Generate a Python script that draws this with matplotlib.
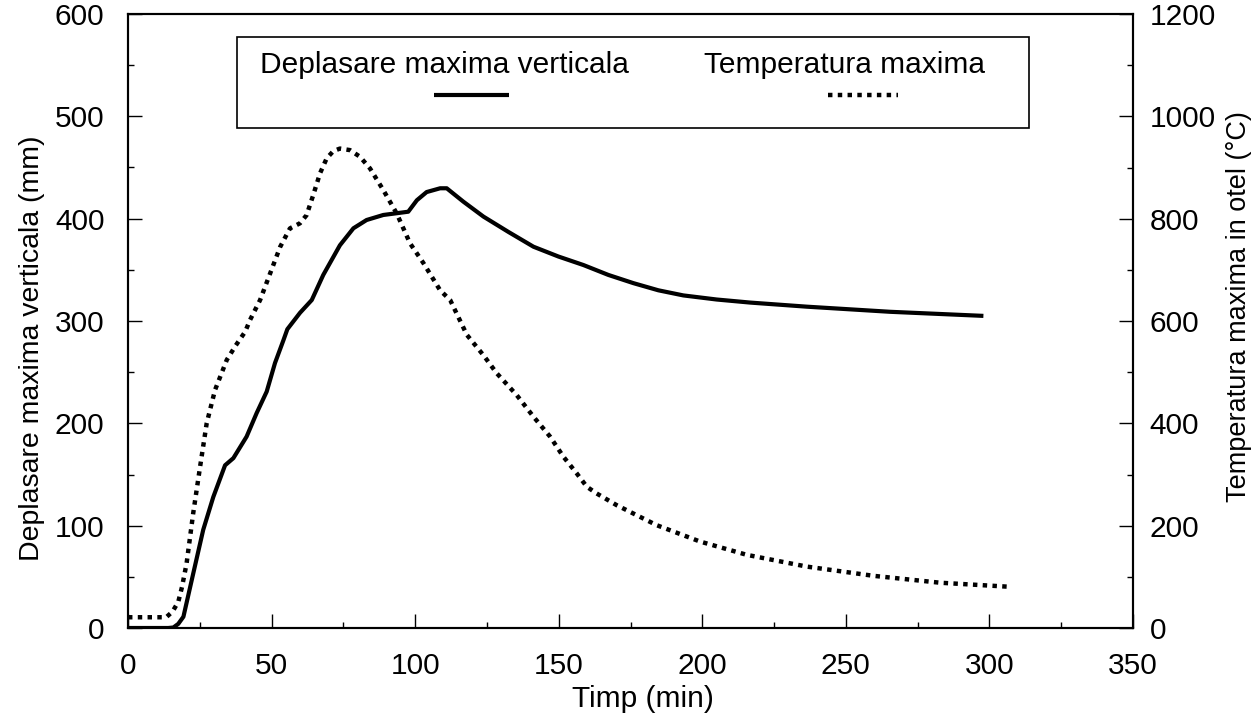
import numpy as np
import matplotlib
matplotlib.use("Agg")
import matplotlib.pyplot as plt
from matplotlib.patches import Rectangle
from matplotlib.ticker import MultipleLocator

plt.rcParams['font.family'] = ['Liberation Sans', 'DejaVu Sans']

# Deplasare maxima verticala (mm) vs timp (min)
disp_t = [0, 14, 15.8, 17.5, 19.3, 22.7, 26.2, 29.7, 33.8, 36.7, 41.3, 44.8,
          48.3, 51.2, 54.1, 55.5, 59.9, 64, 68, 73.8, 78.5, 83.1, 88.9, 97.6,
          100.6, 104, 108.7, 111, 116.8, 123.8, 129.6, 132.5, 141.2, 149.9,
          158.6, 167.3, 176, 184.7, 193.4, 205, 216.7, 236.4, 265.4, 297.9]
disp_v = [0, 0, 0.5, 4, 11, 53, 96, 128, 159, 166, 187, 210,
          231, 259, 281, 292, 308, 320.5, 345, 374, 390.6, 398.7, 403.6, 406.8,
          418, 426, 429.7, 429.7, 416.6, 402, 392, 387, 372.6, 363,
          354.7, 345, 337, 330, 325, 321, 318, 314, 309, 305]

# Temperatura maxima in otel (C) vs timp (min)
temp_t = [0, 9.4, 12, 13.5, 15.5, 17.5, 18.8, 20.4, 22.7, 25.1, 27.4, 30.3,
          34.4, 37.5, 40.8, 42.5, 46, 49.5, 53, 56.4, 59.9, 62.2, 64.5, 66.9,
          69.2, 71.5, 73.8, 77.3, 80.8, 84.3, 88.9, 93.6, 98.2, 102.9, 108.7,
          112.2, 118, 123.8, 128.4, 135.4, 141.2, 147, 151.6, 156.3, 159.8,
          163.2, 170.2, 184.1, 199.2, 215.5, 236.4, 259.6, 282.8, 306.6]
temp_T = [21, 21, 21, 22, 32, 51, 80, 126, 224, 315, 400, 465,
          524, 552, 579, 602, 641, 693, 745, 781, 791, 807, 846, 889,
          918, 932, 937, 934, 921, 898, 856, 810, 752, 713, 660,
          641, 573, 533, 498, 455, 413, 374, 335, 302, 276,
          263, 240, 201, 169, 143, 120, 102, 88.5, 80.7]

fig = plt.figure(figsize=(12.58, 7.19), dpi=100)
ax = fig.add_axes([128 / 1258, 91 / 719, 1005 / 1258, 614 / 719])
ax2 = ax.twinx()

ax.plot(disp_t, disp_v, color='black', linewidth=3, solid_capstyle='butt',
        solid_joinstyle='round')
ax2.plot(temp_t, temp_T, color='black', linewidth=3.2, linestyle=(0, (1, 1.2)),
         dash_capstyle='butt')

ax.set_xlim(0, 350)
ax.set_ylim(0, 600)
ax2.set_ylim(0, 1200)

ax.xaxis.set_major_locator(MultipleLocator(50))
ax.xaxis.set_minor_locator(MultipleLocator(25))
ax.yaxis.set_major_locator(MultipleLocator(100))
ax.yaxis.set_minor_locator(MultipleLocator(50))
ax2.yaxis.set_major_locator(MultipleLocator(200))
ax2.yaxis.set_minor_locator(MultipleLocator(100))

fs = 21.5
ax.tick_params(axis='x', which='both', direction='in', top=False, width=1,
               labelsize=fs, pad=17)
ax.tick_params(axis='y', which='both', direction='in', right=False, width=1,
               labelsize=fs, pad=17)
ax2.tick_params(axis='y', which='both', direction='in', width=1,
                labelsize=fs, pad=12)
for a in (ax, ax2):
    a.tick_params(which='major', length=10)
    a.tick_params(which='minor', length=4.5)
    for s in a.spines.values():
        s.set_linewidth(1.5)

ax.set_xlabel('Timp (min)', fontsize=fs)
ax.set_ylabel('Deplasare maxima verticala (mm)', fontsize=20.5)
ax2.set_ylabel('Temperatura maxima in otel (°C)', fontsize=19.5)
ax.xaxis.set_label_coords(0.512, -0.093)
ax.yaxis.set_label_coords(-0.083, 0.455)
ax2.yaxis.set_label_coords(1.093, 0.523)

# legend box drawn by hand: labels above the line samples
ax.add_patch(Rectangle((0.1085, 0.8143), 0.788, 0.1482, transform=ax.transAxes,
                       facecolor='white', edgecolor='black', linewidth=1.2,
                       zorder=5))
ax.text(0.1313, 0.9039, 'Deplasare maxima verticala', transform=ax.transAxes,
        fontsize=fs, va='baseline', ha='left', zorder=6)
ax.text(0.5731, 0.9039, 'Temperatura maxima', transform=ax.transAxes,
        fontsize=fs, va='baseline', ha='left', zorder=6)
ax.plot([0.3045, 0.3791], [0.8681, 0.8681], transform=ax.transAxes,
        color='black', linewidth=3, solid_capstyle='butt', zorder=6)
ax.plot([0.6965, 0.7662], [0.8681, 0.8681], transform=ax.transAxes,
        color='black', linewidth=3.2, linestyle=(0, (1, 1.2)),
        dash_capstyle='butt', zorder=6)

fig.savefig('out.png', dpi=100)
